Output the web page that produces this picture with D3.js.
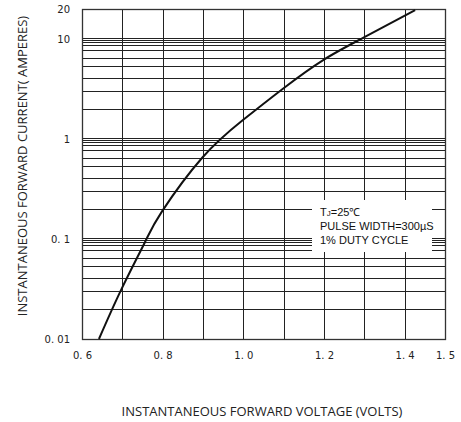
<!DOCTYPE html>
<html>
<head>
<meta charset="utf-8">
<script src="https://cdn.jsdelivr.net/npm/d3@7"></script>
<style>
  html, body { margin: 0; padding: 0; background: #fff; }
  svg { display: block; }
</style>
</head>
<body>
<svg id="chart" width="461" height="422"></svg>
<script>
// ---- data ----
const voltage = [0.642, 0.697, 0.756, 0.798, 0.898, 0.999, 1.099, 1.198, 1.299, 1.426];
const current = [0.010, 0.031, 0.093, 0.188, 0.65, 1.55, 3.21, 6.17, 10.4, 19.5];

const xGridValues = [0.6, 0.7, 0.8, 0.9, 1.0, 1.1, 1.2, 1.3, 1.4, 1.5];
const xTickValues = [0.6, 0.8, 1.0, 1.2, 1.4, 1.5];
const xTickLabels = ["0. 6", "0. 8", "1. 0", "1. 2", "1. 4", "1. 5"];
const yTickValues = [0.01, 0.1, 1, 10, 20];
const yTickLabels = ["0. 01", "0. 1", "1", "10", "20"];
const gridDecades = [0.01, 0.1, 1];
const gridMultipliers = [2, 3, 4.05, 5.35, 6.5, 7.7, 8.7, 9.3, 9.75, 10.2];

const legendLines = ["=25\u2103", "PULSE WIDTH=300\u00B5S", "1% DUTY CYCLE"];
const xTitle = "INSTANTANEOUS FORWARD VOLTAGE (VOLTS)";
const yTitle = "INSTANTANEOUS FORWARD CURRENT( AMPERES)";

// ---- layout ----
const plot = { left: 82, right: 445, top: 9, bottom: 339 };
const svg = d3.select("#chart");

const x = d3.scaleLinear().domain([0.6, 1.5]).range([plot.left, plot.right]);
const y = d3.scaleLog().domain([0.01, 20]).range([plot.bottom, plot.top]);

const crisp = v => Math.round(v) + 0.5;

// horizontal grid
const hValues = [];
gridDecades.forEach(d => gridMultipliers.forEach(m => hValues.push(d * m)));
const grid = svg.append("g").attr("stroke", "#222").attr("stroke-width", 1);
grid.selectAll("line.h").data(hValues).join("line")
  .attr("class", "h")
  .attr("x1", plot.left).attr("x2", plot.right)
  .attr("y1", d => crisp(y(d))).attr("y2", d => crisp(y(d)));
// vertical grid
grid.selectAll("line.v").data(xGridValues).join("line")
  .attr("class", "v")
  .attr("y1", plot.top).attr("y2", plot.bottom)
  .attr("x1", d => crisp(x(d))).attr("x2", d => crisp(x(d)));

// frame
svg.append("rect")
  .attr("x", crisp(plot.left)).attr("y", crisp(plot.top))
  .attr("width", Math.round(plot.right - plot.left)).attr("height", Math.round(plot.bottom - plot.top))
  .attr("fill", "none").attr("stroke", "#333").attr("stroke-width", 1.3);

// legend box (white)
const lg = svg.append("g");
lg.append("rect").attr("x", 312).attr("y", 200).attr("width", 120).attr("height", 52).attr("fill", "#fff");
const lt = lg.selectAll("text").data(legendLines).join("text")
  .attr("x", 320).attr("y", (d, i) => 216 + i * 14)
  .attr("font-family", "Liberation Sans, Arial, sans-serif")
  .attr("font-size", 11).attr("fill", "#111");
lt.each(function (d, i) {
  const t = d3.select(this);
  if (i === 0) {
    t.append("tspan").text("T");
    t.append("tspan").attr("font-size", 8).text("J");
    t.append("tspan").text(d);
  } else {
    t.text(d);
  }
});

// curve
const pts = voltage.map((v, i) => [v, current[i]]);
svg.append("path")
  .datum(pts)
  .attr("fill", "none").attr("stroke", "#111").attr("stroke-width", 2)
  .attr("d", d3.line().x(d => x(d[0])).y(d => y(d[1])).curve(d3.curveNatural));

// x tick labels
const xAxis = d3.axisBottom(x).tickValues(xTickValues).tickSize(0).tickPadding(0)
  .tickFormat((d, i) => xTickLabels[i]);
const gx = svg.append("g").attr("transform", `translate(0,${plot.bottom})`).call(xAxis);
gx.select(".domain").remove();
gx.selectAll("text").attr("y", 20).attr("dy", null)
  .attr("font-family", "DejaVu Sans, sans-serif").attr("font-size", 10).attr("fill", "#222");

// y tick labels
const yAxis = d3.axisLeft(y).tickValues(yTickValues).tickSize(0).tickPadding(12)
  .tickFormat((d, i) => yTickLabels[i]);
const gy = svg.append("g").attr("transform", `translate(${plot.left},0)`).call(yAxis);
gy.select(".domain").remove();
gy.selectAll("text")
  .attr("font-family", "DejaVu Sans, sans-serif").attr("font-size", 10).attr("fill", "#222");

// titles
svg.append("text")
  .attr("x", 262).attr("y", 416).attr("text-anchor", "middle")
  .attr("font-family", "Open Sans, sans-serif").attr("font-size", 13).attr("fill", "#222")
  .text(xTitle);
svg.append("text")
  .attr("transform", "translate(27,166) rotate(-90)").attr("text-anchor", "middle")
  .attr("font-family", "Open Sans, sans-serif").attr("font-size", 13).attr("fill", "#222")
  .text(yTitle);
</script>
</body>
</html>
